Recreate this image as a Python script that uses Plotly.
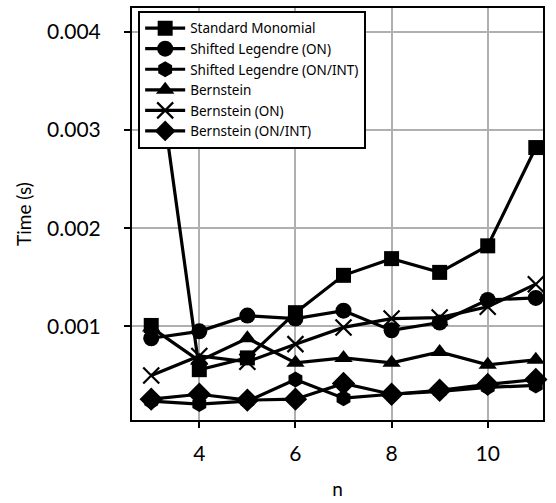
import plotly.graph_objects as go

n = [3, 4, 5, 6, 7, 8, 9, 10, 11]

standard_monomial = [0.0041, 0.00056, 0.00068, 0.00114, 0.00152, 0.00169, 0.00155, 0.00182, 0.00282]
standard_monomial_extra_n = [3]
standard_monomial_extra = [0.00101]
shifted_legendre_on = [0.00088, 0.00095, 0.00111, 0.00108, 0.00116, 0.00096, 0.00104, 0.00127, 0.00129]
shifted_legendre_on_int = [0.00024, 0.00021, 0.00024, 0.00046, 0.00027, 0.00031, 0.00034, 0.00038, 0.00040]
bernstein = [0.00099, 0.00065, 0.00088, 0.00063, 0.00068, 0.00063, 0.00074, 0.00061, 0.00066]
bernstein_on = [0.00050, 0.00070, 0.00064, 0.00082, 0.00099, 0.00108, 0.00109, 0.00120, 0.00143]
bernstein_on_int = [0.00026, 0.00031, 0.00025, 0.00026, 0.00042, 0.00031, 0.00035, 0.00041, 0.00046]

x_ticks = [4, 6, 8, 10]
y_ticks = [0.001, 0.002, 0.003, 0.004]
y_tick_labels = ["0.001", "0.002", "0.003", "0.004"]

series = [
    ("Standard Monomial", standard_monomial, "square", 15),
    ("Shifted Legendre (ON)", shifted_legendre_on, "circle", 16),
    ("Shifted Legendre (ON/INT)", shifted_legendre_on_int, "hexagon", 16),
    ("Bernstein", bernstein, "triangle-up", 16),
    ("Bernstein (ON)", bernstein_on, "x-thin", 16),
    ("Bernstein (ON/INT)", bernstein_on_int, "diamond", 18),
]

fig = go.Figure()
for name, ys, sym, size in series:
    fig.add_trace(go.Scatter(
        x=n, y=ys, name=name, mode="lines+markers", cliponaxis=False,
        line=dict(color="black", width=3.2),
        marker=dict(symbol=sym, size=size, color="black",
                    line=dict(color="black", width=2.2 if sym == "x-thin" else 0)),
    ))

fig.add_trace(go.Scatter(
    x=standard_monomial_extra_n, y=standard_monomial_extra, mode="markers",
    showlegend=False, cliponaxis=False,
    marker=dict(symbol="square", size=15, color="black"),
))

axis_common = dict(
    showline=True, linecolor="black", linewidth=2, mirror=True,
    ticks="outside", ticklen=6, tickwidth=1.5, tickcolor="black",
    showgrid=True, gridcolor="#b0b0b0", gridwidth=1.5,
    zeroline=False,
    tickfont=dict(family="Lato, sans-serif", size=21, color="black"),
)

fig.update_layout(
    width=556, height=503,
    margin=dict(l=132, r=13, t=6, b=80),
    plot_bgcolor="white", paper_bgcolor="white",
    font=dict(family="Lato, sans-serif", color="black"),
    xaxis=dict(range=[2.6, 11.15], tickvals=x_ticks, ticklabelstandoff=8,
               title=dict(text="n", font=dict(size=19), standoff=18), **axis_common),
    yaxis=dict(range=[0.000048, 0.00424], tickvals=y_ticks, ticktext=y_tick_labels,
               ticklabelstandoff=19,
               title=dict(text="Time (s)", font=dict(size=19), standoff=10), **axis_common),
    legend=dict(x=0.015, y=0.993, xanchor="left", yanchor="top",
                bgcolor="white", bordercolor="black", borderwidth=2,
                font=dict(family="Noto Sans, sans-serif", size=13.5, color="black"),
                tracegroupgap=0, itemwidth=40),
)

fig.write_html("out.html", config={"displayModeBar": False},
               post_script="document.body.style.margin='0';")
